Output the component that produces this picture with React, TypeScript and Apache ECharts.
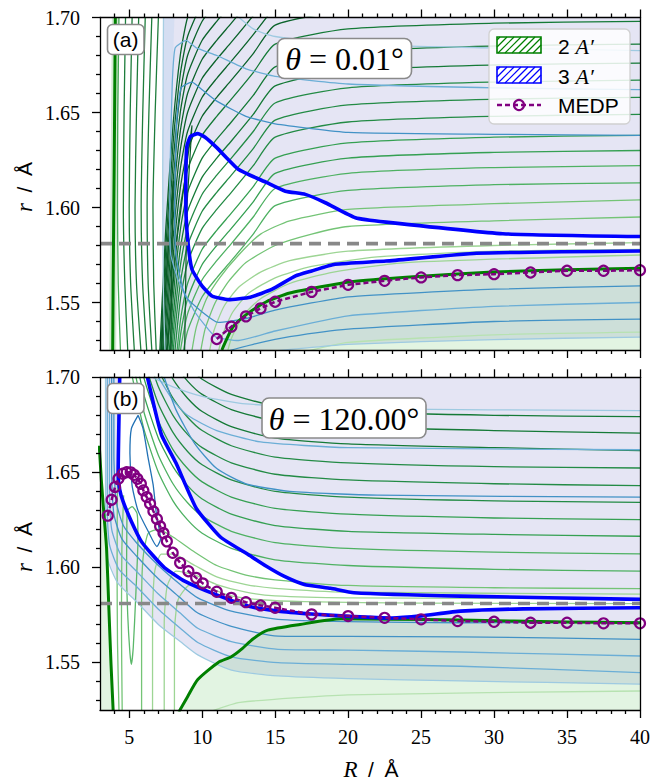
import React, { useEffect, useRef } from 'react';
import * as echarts from 'echarts';

type P = [number, number];

// ---------------- axes ----------------
const X_MIN = 3, X_MAX = 40, Y_MIN = 1.525, Y_MAX = 1.70;
const X_MAJOR = [5, 10, 15, 20, 25, 30, 35, 40];
const X_MINOR = [4, 6, 7, 8, 9, 11, 12, 13, 14, 16, 17, 18, 19, 21, 22, 23, 24, 26, 27, 28, 29, 31, 32, 33, 34, 36, 37, 38, 39];
const Y_MAJOR = [1.55, 1.60, 1.65, 1.70];
const Y_MINOR = [1.53, 1.54, 1.56, 1.57, 1.58, 1.59, 1.61, 1.62, 1.63, 1.64, 1.66, 1.67, 1.68, 1.69];
const ASYMPTOTE_r = 1.581;

// ---------------- panel (a): theta = 0.01 ----------------
const A_MEDP_R = [11, 12, 13, 14, 15, 17.5, 20, 22.5, 25, 27.5, 30, 32.5, 35, 37.5, 40];
const A_MEDP_r = [1.5308, 1.5373, 1.5427, 1.5469, 1.5504, 1.5556, 1.5593, 1.5614, 1.5632, 1.5644, 1.5649, 1.5658, 1.5667, 1.5667, 1.567];

const A_WALL: P[][] = [
  [[4.3, 1.70], [4.22, 1.65], [4.2, 1.60], [4.25, 1.56], [4.4, 1.525]],
  [[4.75, 1.70], [4.65, 1.65], [4.6, 1.60], [4.7, 1.56], [4.9, 1.525]],
  [[5.2, 1.70], [5.07, 1.65], [5.0, 1.60], [5.1, 1.56], [5.35, 1.525]],
  [[5.65, 1.70], [5.5, 1.65], [5.4, 1.60], [5.5, 1.56], [5.8, 1.525]],
  [[6.1, 1.70], [5.93, 1.65], [5.82, 1.60], [5.92, 1.56], [6.2, 1.525]],
  [[6.55, 1.70], [6.35, 1.65], [6.23, 1.60], [6.3, 1.56], [6.55, 1.525]],
  [[7.0, 1.70], [6.78, 1.65], [6.63, 1.60], [6.68, 1.56], [6.85, 1.525]],
];
const A_FAN_TOP: P[][] = [
  [[7.0, 1.508], [7.5, 1.588], [8.0, 1.643], [8.5, 1.680], [9.0, 1.700], [10, 1.718]],
  [[7.0, 1.498], [7.5, 1.578], [8.0, 1.633], [8.5, 1.670], [9.0, 1.690], [10, 1.708]],
  [[7.0, 1.488], [7.5, 1.568], [8.0, 1.623], [8.5, 1.660], [9.0, 1.680], [10, 1.698], [11, 1.708]],
  [[7.0, 1.478], [7.5, 1.558], [8.0, 1.613], [8.5, 1.650], [9.0, 1.670], [10, 1.688], [11, 1.698], [12, 1.707]],
  [[7.0, 1.468], [7.5, 1.548], [8.0, 1.603], [8.5, 1.640], [9.0, 1.660], [10, 1.678], [11, 1.688], [12, 1.697], [13.5, 1.711]],
  [[7.0, 1.458], [7.5, 1.538], [8.0, 1.593], [8.5, 1.630], [9.0, 1.650], [10, 1.668], [11, 1.678], [12, 1.687], [13.5, 1.701], [15, 1.716]],
  [[7.0, 1.448], [7.5, 1.528], [8.0, 1.583], [8.5, 1.620], [9.0, 1.640], [10, 1.658], [11, 1.668], [12, 1.677], [13.5, 1.691], [15, 1.706]],
  [[7.5, 1.518], [8.0, 1.573], [8.5, 1.610], [9.0, 1.630], [10, 1.648], [11, 1.658], [12, 1.667], [13.5, 1.681], [15, 1.696], [20, 1.704]],
];
const A_FAN_END: P[][] = [
  [[7.5, 1.508], [8, 1.563], [8.5, 1.600], [9, 1.620], [10, 1.638], [11, 1.648], [12, 1.657], [13.5, 1.671], [15, 1.686], [20, 1.694], [30, 1.697], [40, 1.698]],
  [[7.5, 1.496], [8, 1.551], [8.5, 1.588], [9, 1.608], [10, 1.626], [11, 1.636], [12, 1.645], [13.5, 1.659], [15, 1.674], [20, 1.682], [30, 1.685], [40, 1.686]],
  [[7.5, 1.486], [8, 1.541], [8.5, 1.578], [9, 1.598], [10, 1.616], [11, 1.626], [12, 1.635], [13.5, 1.649], [15, 1.664], [20, 1.672], [30, 1.675], [40, 1.676]],
  [[7.5, 1.477], [8, 1.532], [8.5, 1.569], [9, 1.589], [10, 1.607], [11, 1.617], [12, 1.626], [13.5, 1.640], [15, 1.655], [20, 1.663], [30, 1.666], [40, 1.667]],
  [[7.5, 1.468], [8, 1.523], [8.5, 1.560], [9, 1.580], [10, 1.598], [11, 1.608], [12, 1.617], [13.5, 1.631], [15, 1.646], [20, 1.654], [30, 1.657], [40, 1.658]],
  [[8, 1.514], [8.5, 1.551], [9, 1.571], [10, 1.589], [11, 1.599], [12, 1.608], [13.5, 1.622], [15, 1.637], [20, 1.645], [30, 1.648], [40, 1.649]],
  [[8, 1.503], [8.5, 1.540], [9, 1.560], [10, 1.578], [11, 1.588], [12, 1.597], [13.5, 1.611], [15, 1.626], [20, 1.634], [30, 1.637], [40, 1.638]],
  [[8, 1.495], [8.5, 1.532], [9, 1.552], [10, 1.570], [11, 1.580], [12, 1.589], [13.5, 1.603], [15, 1.618], [20, 1.626], [30, 1.629], [40, 1.630]],
  [[8, 1.487], [8.5, 1.524], [9, 1.544], [10, 1.562], [11, 1.572], [12, 1.581], [13.5, 1.595], [15, 1.610], [20, 1.618], [30, 1.621], [40, 1.622]],
  [[8.5, 1.515], [9, 1.535], [10, 1.553], [11, 1.563], [12, 1.572], [13.5, 1.586], [15, 1.601], [20, 1.609], [30, 1.612], [40, 1.613]],
];
const A_FAN_LOW: P[][] = [
  [[9.2, 1.52], [9.6, 1.537], [10.3, 1.552], [11.2, 1.563], [12.5, 1.575], [14, 1.586], [16, 1.593], [20, 1.599], [30, 1.602], [40, 1.604]],
  [[9.8, 1.52], [10.2, 1.536], [10.9, 1.550], [11.8, 1.561], [13, 1.571], [15, 1.580], [17.5, 1.586], [20, 1.590], [30, 1.593], [40, 1.595]],
  [[10.4, 1.52], [10.8, 1.535], [11.5, 1.548], [12.5, 1.558], [14, 1.566], [16, 1.572], [20, 1.577], [30, 1.580], [40, 1.5815]],
  [[11.0, 1.52], [11.4, 1.533], [12.1, 1.545], [13.2, 1.555], [15, 1.563], [17.5, 1.569], [22, 1.574], [30, 1.577], [40, 1.578]],
  [[11.6, 1.52], [12.0, 1.531], [12.8, 1.543], [14, 1.552], [16, 1.560], [19, 1.566], [24, 1.571], [40, 1.575]],
];
const A_SPIKES: P[][] = [
  [[7.2, 1.525], [7.6, 1.57], [8.03, 1.614], [7.92, 1.575], [7.85, 1.525]],
  [[7.6, 1.525], [8.3, 1.585], [9.3, 1.643], [8.95, 1.60], [8.8, 1.525]],
];
const A_GREEN_BOTTOM: P[] = [[17, 1.524], [20, 1.529], [30, 1.533], [40, 1.5344]];
const A_GREEN_WALL: P[] = [[4.05, 1.70], [3.97, 1.62], [3.9, 1.56], [3.87, 1.525]];
const A_GREEN_THICK: P[] = [[11.35, 1.525], [12.1, 1.537], [13, 1.5435], [14.4, 1.5504], [16, 1.555], [18.75, 1.5591], [20.5, 1.5612], [25, 1.5638], [29.9, 1.566], [35, 1.5672], [40, 1.568]];
const A_BLUE_LOOP: P[] = [
  [40, 1.5847], [30.6, 1.5862], [22.6, 1.5923], [20.5, 1.5946], [18.44, 1.6025], [17.07, 1.6069], [15.7, 1.6086],
  [14.4, 1.6132], [12.5, 1.620], [11.0, 1.6315], [10.2, 1.637], [9.7, 1.6389], [9.2, 1.6374], [8.95, 1.632],
  [8.88, 1.612], [8.9, 1.5953], [9.05, 1.58], [9.3, 1.5675], [10.0, 1.5586], [10.7, 1.5533], [11.8, 1.5515],
  [13.3, 1.5528], [14.8, 1.557], [16.4, 1.564], [17.5, 1.5666], [19.1, 1.5701], [22.6, 1.5718], [28.8, 1.5759], [40, 1.5771],
];
const A_BLUE_V0: P[] = [[7.35, 1.70], [7.3, 1.62], [7.33, 1.56], [7.45, 1.525]];
const A_BLUE_U: P[][] = [
  [[40, 1.662], [30, 1.663], [20, 1.665], [15, 1.669], [13, 1.673], [11, 1.680], [9.6, 1.684], [8.9, 1.688], [8.15, 1.684],
   [7.95, 1.665], [7.8, 1.62], [7.78, 1.59], [7.85, 1.575], [8.35, 1.562], [9.5, 1.545], [10.9, 1.532], [12.5, 1.530],
   [15, 1.535], [20, 1.543], [30, 1.548], [40, 1.550]],
  [[40, 1.638], [30, 1.6385], [20, 1.6395], [15, 1.644], [13, 1.648], [11, 1.656], [10, 1.662], [9.3, 1.666], [8.55, 1.663],
   [8.25, 1.645], [8.12, 1.60], [8.2, 1.575], [8.83, 1.5535], [10, 1.545], [11.1, 1.5395], [13, 1.5415], [15, 1.546],
   [20, 1.553], [30, 1.557], [40, 1.5588]],
];
const A_BLUE_TOP: P[] = [[11.8, 1.705], [13.5, 1.694], [15, 1.690], [20, 1.686], [30, 1.684], [40, 1.6826]];
const A_BLUE_LOW: P[][] = [
  [[11.5, 1.524], [13.5, 1.528], [16, 1.532], [20, 1.536], [30, 1.540], [40, 1.5413]],
  [[15, 1.5245], [17, 1.526], [20, 1.528], [30, 1.5305], [40, 1.5318]],
];

// ---------------- panel (b): theta = 120 ----------------
const B_MEDP_R = [3.53, 3.8, 4.03, 4.26, 4.56, 4.83, 5.1, 5.33, 5.56, 5.8, 5.97, 6.2, 6.43, 6.66, 6.9, 7.12, 7.35, 7.58, 7.98, 8.49, 9.06, 9.59, 10.04, 11, 12, 13, 14, 15, 17.5, 20, 22.5, 25, 27.5, 30, 32.5, 35, 37.5, 40];
const B_MEDP_r = [1.6272, 1.6356, 1.6423, 1.6466, 1.6493, 1.6501, 1.650, 1.6487, 1.6466, 1.644, 1.6405, 1.637, 1.6335, 1.6295, 1.6255, 1.6216, 1.6181, 1.6137, 1.6077, 1.6024, 1.598, 1.5945, 1.5916, 1.5872, 1.584, 1.5817, 1.580, 1.5788, 1.5753, 1.5744, 1.5735, 1.5727, 1.5718, 1.5714, 1.5709, 1.5709, 1.5706, 1.5706];

const B_FAN_UP: P[][] = [
  [[9, 1.706], [10, 1.699], [12, 1.691], [15, 1.685], [20, 1.682], [30, 1.680], [40, 1.6793]],
  [[8, 1.708], [9, 1.698], [10, 1.691], [12, 1.683], [15, 1.677], [20, 1.674], [30, 1.672], [40, 1.6706]],
  [[7, 1.714], [8, 1.699], [9, 1.689], [10, 1.682], [12, 1.674], [15, 1.668], [20, 1.665], [30, 1.663], [40, 1.6615]],
  [[7, 1.704], [8, 1.689], [9, 1.679], [10, 1.672], [12, 1.664], [15, 1.658], [20, 1.655], [30, 1.653], [40, 1.6523]],
  [[6, 1.718], [7, 1.695], [8, 1.680], [9, 1.670], [10, 1.663], [12, 1.655], [15, 1.649], [20, 1.646], [30, 1.644], [40, 1.643]],
  [[6, 1.709], [7, 1.686], [8, 1.671], [9, 1.661], [10, 1.654], [12, 1.646], [15, 1.640], [20, 1.637], [30, 1.635], [40, 1.6342]],
  [[5, 1.735], [6, 1.700], [7, 1.677], [8, 1.662], [9, 1.652], [10, 1.645], [12, 1.637], [15, 1.631], [20, 1.628], [30, 1.626], [40, 1.6251]],
  [[5, 1.726], [6, 1.691], [7, 1.668], [8, 1.653], [9, 1.643], [10, 1.636], [12, 1.628], [15, 1.622], [20, 1.619], [30, 1.6174], [40, 1.6164]],
  [[5, 1.717], [6, 1.682], [7, 1.659], [8, 1.644], [9, 1.634], [10, 1.627], [12, 1.619], [15, 1.613], [20, 1.610], [30, 1.608], [40, 1.6071]],
  [[5, 1.708], [6, 1.673], [7, 1.650], [8, 1.635], [9, 1.625], [10, 1.618], [12, 1.610], [15, 1.604], [20, 1.601], [30, 1.599], [40, 1.598]],
];
const B_FAN_LOW: P[][] = [
  [[5.85, 1.525], [5.85, 1.58], [5.95, 1.605], [6.3, 1.618], [7, 1.62], [8, 1.616], [9.5, 1.608], [11, 1.601], [13, 1.596], [15, 1.5935], [20, 1.5905], [30, 1.5893], [40, 1.5888]],
  [[6.6, 1.525], [6.6, 1.575], [6.75, 1.598], [7.2, 1.607], [8, 1.607], [9.5, 1.601], [11, 1.595], [13, 1.591], [15, 1.589], [20, 1.587], [40, 1.586]],
  [[7.4, 1.525], [7.4, 1.57], [7.6, 1.59], [8.2, 1.598], [9.5, 1.596], [11, 1.591], [13, 1.587], [15, 1.585], [20, 1.584], [40, 1.5835]],
  [[8.1, 1.525], [8.1, 1.565], [8.35, 1.583], [9.2, 1.591], [10.5, 1.589], [12, 1.585], [14, 1.583], [17, 1.582], [25, 1.5812], [40, 1.581]],
];
const B_WALL: P[][] = [
  [[4.3, 1.70], [4.2, 1.65], [4.17, 1.60], [4.2, 1.56], [4.3, 1.525]],
  [[4.62, 1.638], [4.5, 1.61], [4.47, 1.57], [4.52, 1.525]],
];
const B_GREEN_LOOP: P[] = [[4.85, 1.63], [4.82, 1.60], [4.9, 1.575], [5.05, 1.555], [5.15, 1.549], [5.28, 1.558], [5.45, 1.585], [5.6, 1.615], [5.55, 1.628], [5.2, 1.632], [4.85, 1.63]];
const B_GREEN_BOTTOM: P[] = [[10.5, 1.524], [12.6, 1.529], [20, 1.533], [40, 1.535]];
const B_GREEN_WALL: P[] = [[2.95, 1.664], [3.1, 1.645], [3.3, 1.625], [3.45, 1.61], [3.6, 1.58], [3.75, 1.55], [3.9, 1.525]];
const B_GREEN_THICK: P[] = [[8.4, 1.524], [9.0, 1.532], [9.7, 1.541], [11.1, 1.55], [12.0, 1.553], [12.7, 1.557], [13.5, 1.5625], [14.5, 1.567], [16.7, 1.570], [19.5, 1.573], [23, 1.5728], [27.7, 1.5723], [35, 1.5713], [40, 1.5709]];
const B_BLUE_UPPER: P[] = [[6.25, 1.70], [7.2, 1.670], [8.2, 1.655], [9.6, 1.631], [11.25, 1.616], [13.1, 1.607], [14.4, 1.6006], [15.6, 1.5954], [17, 1.591], [18.8, 1.589], [20.4, 1.5867], [27.7, 1.5849], [40, 1.5832]];
const B_BLUE_LOWER: P[] = [[4.35, 1.70], [4.28, 1.67], [4.24, 1.6487], [4.35, 1.641], [4.58, 1.6347], [5.15, 1.6242], [5.83, 1.6137], [6.6, 1.6065], [7.43, 1.5998], [8.8, 1.5928], [10.9, 1.5858], [13.2, 1.5796], [15.2, 1.577], [17.5, 1.5755], [20.4, 1.5741], [23, 1.5734], [25, 1.5745], [27.7, 1.577], [32, 1.5782], [40, 1.5788]];
const B_BLUE_ISLAND: P[] = [[5.61, 1.680], [5.95, 1.673], [6.3, 1.6575], [6.64, 1.6435], [6.87, 1.6277], [7.15, 1.615], [6.9, 1.611], [6.3, 1.619], [5.6, 1.63], [5.2, 1.643], [5.05, 1.66], [5.15, 1.673], [5.61, 1.680]];
const B_BLUE_UP: P[][] = [
  [[6.6, 1.70], [8, 1.695], [10, 1.69], [13, 1.686], [20, 1.6835], [40, 1.6825]],
  [[7.0, 1.70], [8, 1.688], [9, 1.68], [11, 1.672], [14, 1.666], [20, 1.663], [40, 1.6619]],
  [[7.4, 1.70], [8.2, 1.683], [9.5, 1.665], [11, 1.652], [13, 1.644], [16, 1.640], [22, 1.638], [40, 1.637]],
];
const B_BLUE_LOW: P[][] = [
  [[3.95, 1.70], [3.95, 1.66], [4.1, 1.635], [4.6, 1.622], [5.5, 1.613], [7, 1.601], [8.5, 1.591], [9.7, 1.584], [12, 1.577], [15.2, 1.5727], [20, 1.5715], [27.7, 1.5709], [40, 1.5712]],
  [[3.8, 1.70], [3.8, 1.65], [3.95, 1.628], [4.5, 1.615], [5.5, 1.606], [7, 1.594], [8.5, 1.584], [9.7, 1.576], [12, 1.569], [15.2, 1.5639], [20, 1.5637], [27.7, 1.5635], [40, 1.5622]],
  [[3.65, 1.70], [3.65, 1.64], [3.8, 1.62], [4.4, 1.607], [5.5, 1.598], [7, 1.586], [8.5, 1.576], [9.7, 1.568], [12, 1.561], [15.2, 1.5569], [20, 1.5565], [27.7, 1.5555], [40, 1.5534]],
  [[3.5, 1.70], [3.5, 1.63], [3.65, 1.612], [4.3, 1.599], [5.5, 1.590], [7, 1.578], [8.5, 1.568], [9.7, 1.5605], [12, 1.553], [15.2, 1.5499], [20, 1.549], [27.7, 1.548], [40, 1.5447]],
  [[3.38, 1.70], [3.38, 1.625], [3.5, 1.605], [4.2, 1.592], [5.5, 1.582], [7, 1.570], [8.5, 1.561], [9.7, 1.554], [12, 1.546], [15.2, 1.5429], [20, 1.5415], [27.7, 1.5403], [40, 1.5386]],
];

// ---------------- styles ----------------
const LAVENDER = '#e5e5f4';
const GREEN_FILL = 'rgba(110,200,110,0.2)';
const C_TOP = '#0b632b';
const C_END = ['#157a37', '#157a37', '#157a37', '#238b45', '#238b45', '#238b45', '#35a052', '#35a052', '#4eb162', '#4eb162'];
const C_LOW = ['#74c476', '#74c476', '#9dd594', '#9dd594', '#9dd594'];
const C_UPB = ['#157a37', '#157a37', '#157a37', '#238b45', '#238b45', '#238b45', '#35a052', '#35a052', '#4eb162', '#4eb162'];
const C_LFB = ['#74c476', '#9dd594', '#9dd594', '#9dd594'];
const C_BLUE_LOW_B = ['#4292c6', '#4292c6', '#6baed6', '#6baed6', '#9ecae1'];
const SERIF = 'Liberation Serif';
const SANS = 'Liberation Sans';

const PANEL_TOP = [17.5, 377.3];
const PANEL_H = [332.5, 332.7];

function ln(p: number, data: P[], color: string, width = 1.3, z = 3, smooth: any = 0.2, type: any = 'solid') {
  return {
    type: 'line', xAxisIndex: p * 4, yAxisIndex: p * 4, data, symbol: 'none', showSymbol: false,
    smooth, clip: true, silent: true, z,
    lineStyle: { color, width, type, join: 'round', cap: 'butt' },
  };
}
function poly(p: number, pts: P[], fill: string, z = 1) {
  return {
    type: 'custom', xAxisIndex: p * 4, yAxisIndex: p * 4, data: pts, clip: true, silent: true, z,
    renderItem: (params: any, api: any) =>
      params.dataIndex === 0
        ? { type: 'polygon', shape: { points: pts.map((q) => api.coord(q)) }, style: { fill } }
        : null,
  };
}
function medp(p: number, R: number[], r: number[]) {
  return {
    type: 'line', xAxisIndex: p * 4, yAxisIndex: p * 4, data: R.map((x, i) => [x, r[i]]),
    symbol: 'circle', symbolSize: 10, showSymbol: true, clip: true, silent: true, z: 6,
    lineStyle: { color: '#800080', width: 2.5, type: [5, 3] },
    itemStyle: { color: 'rgba(0,0,0,0)', borderColor: '#800080', borderWidth: 2.2 },
  };
}
function dash(p: number) {
  return ln(p, [[X_MIN, ASYMPTOTE_r], [X_MAX, ASYMPTOTE_r]], '#888888', 3.6, 5, false, [12, 7]);
}

function hatch(x0: number, y0: number, w: number, h: number, color: string) {
  const els: any[] = [{ type: 'rect', shape: { x: x0, y: y0, width: w, height: h }, style: { fill: '#fff', stroke: null }, z: 100 }];
  for (let c = x0 - h + 3; c < x0 + w; c += 7) {
    let xa = c, ya = y0 + h, xb = c + h, yb = y0;
    if (xa < x0) { ya -= x0 - xa; xa = x0; }
    if (xb > x0 + w) { yb += xb - (x0 + w); xb = x0 + w; }
    if (xb - xa > 0.5) els.push({ type: 'line', shape: { x1: xa, y1: ya, x2: xb, y2: yb }, style: { stroke: color, lineWidth: 1.2 }, z: 101 });
  }
  els.push({ type: 'rect', shape: { x: x0, y: y0, width: w, height: h }, style: { fill: 'none', stroke: color, lineWidth: 1.6 }, z: 102 });
  return els;
}

function buildOption() {
  const grid: any[] = [];
  const xAxis: any[] = [];
  const yAxis: any[] = [];
  const lineBlack = { color: '#000', width: 1.3 };
  const tickFont = { color: '#000', fontFamily: SERIF, fontSize: 20 };
  for (let p = 0; p < 2; p++) {
    for (let k = 0; k < 4; k++) {
      grid.push({ left: 100, top: PANEL_TOP[p], width: 540, height: PANEL_H[p], containLabel: false });
      const gi = p * 4 + k;
      const major = k === 0 || k === 1;
      const top = k === 1 || k === 3;
      xAxis.push({
        gridIndex: gi, type: 'value', min: X_MIN, max: X_MAX, position: top ? 'top' : 'bottom', z: 10,
        axisLine: { show: major, lineStyle: lineBlack },
        axisTick: { show: true, inside: false, customValues: major ? X_MAJOR : X_MINOR, length: major ? 8 : 4, lineStyle: lineBlack },
        axisLabel: {
          show: k === 0 && p === 1, customValues: X_MAJOR, margin: 17, ...tickFont,
          formatter: (v: number) => String(Math.round(v)),
        },
        splitLine: { show: false },
      });
      const yBase: any = {
        gridIndex: gi, type: 'value', min: Y_MIN, max: Y_MAX, z: 10, splitLine: { show: false },
      };
      if (k === 0) {
        yAxis.push({
          ...yBase, position: 'left',
          axisLine: { show: true, lineStyle: lineBlack },
          axisTick: { show: true, customValues: Y_MAJOR, length: 8, lineStyle: lineBlack },
          axisLabel: { show: true, customValues: Y_MAJOR, margin: 20, ...tickFont, formatter: (v: number) => v.toFixed(2) },
        });
      } else if (k === 1) {
        yAxis.push({
          ...yBase, position: 'right',
          axisLine: { show: true, lineStyle: lineBlack }, axisTick: { show: false }, axisLabel: { show: false },
        });
      } else if (k === 2) {
        yAxis.push({
          ...yBase, position: 'left',
          axisLine: { show: false }, axisTick: { show: true, customValues: Y_MINOR, length: 4, lineStyle: lineBlack }, axisLabel: { show: false },
        });
      } else {
        yAxis.push({ ...yBase, show: false });
      }
    }
  }

  const series: any[] = [];
  // ----- panel a -----
  series.push(poly(0, [[A_BLUE_V0[0][0], Y_MAX], [X_MAX, Y_MAX], ...A_BLUE_LOW[1].slice().reverse(), ...A_BLUE_V0.slice().reverse()], LAVENDER));
  series.push(poly(0, [[7.35, 1.70], [7.3, 1.62], [7.33, 1.56], [7.45, 1.525], [7.85, 1.525], [7.8, 1.58], [7.8, 1.62], [7.95, 1.665], [8.1, 1.70]], 'rgba(160,200,235,0.22)'));
  series.push(poly(0, A_BLUE_LOOP, '#ffffff'));
  series.push(poly(0, [...A_GREEN_THICK, [X_MAX, 1.52], [A_GREEN_THICK[0][0], 1.52]], GREEN_FILL));

  A_WALL.forEach((l, i) => series.push(ln(0, l, i === 0 ? '#4aab5c' : '#1e7d3c')));
  A_FAN_TOP.forEach((l) => series.push(ln(0, l, C_TOP)));
  A_FAN_END.forEach((l, i) => series.push(ln(0, l, C_END[i])));
  A_FAN_LOW.forEach((l, i) => series.push(ln(0, l, C_LOW[i])));
  A_SPIKES.forEach((l) => series.push(ln(0, l, '#0b5a27', 1.2, 3, false)));
  series.push(ln(0, A_GREEN_BOTTOM, '#b7e2b1'));
  series.push(ln(0, A_BLUE_V0, '#a6cee3', 1.3, 3, 0.2));
  series.push(ln(0, A_BLUE_U[0], '#6baed6', 1.3, 3, 0.15));
  series.push(ln(0, A_BLUE_U[1], '#4292c6', 1.3, 3, 0.15));
  series.push(ln(0, A_BLUE_TOP, '#9ecae1'));
  series.push(ln(0, A_BLUE_LOW[0], '#4292c6'));
  series.push(ln(0, A_BLUE_LOW[1], '#9ecae1'));
  series.push(ln(0, A_GREEN_WALL, 'rgba(0,128,0,0.18)', 7, 4, 0.2));
  series.push(ln(0, A_GREEN_WALL, '#008000', 3, 4, 0.2));
  series.push(ln(0, A_GREEN_THICK, '#008000', 3, 4, 0.2));
  series.push(ln(0, A_BLUE_LOOP, '#0000ff', 3.6, 4, 0.15));
  series.push(dash(0));
  series.push(medp(0, A_MEDP_R, A_MEDP_r));

  // ----- panel b -----
  series.push(poly(1, [[X_MIN, B_GREEN_WALL[0][1]], ...B_GREEN_WALL, [X_MIN, Y_MIN]], GREEN_FILL));
  series.push(poly(1, [...B_BLUE_UPPER, [X_MAX, 1.71], [B_BLUE_UPPER[0][0], 1.71]], LAVENDER));
  series.push(poly(1, [...B_BLUE_LOWER, ...B_BLUE_LOW[4].slice().reverse()], LAVENDER));
  series.push(poly(1, [...B_GREEN_THICK, [X_MAX, 1.52], [B_GREEN_THICK[0][0], 1.52]], GREEN_FILL));

  B_WALL.forEach((l) => series.push(ln(1, l, '#74c476')));
  series.push(ln(1, B_GREEN_LOOP, '#5bb86a'));
  B_FAN_UP.forEach((l, i) => series.push(ln(1, l, C_UPB[i])));
  B_FAN_LOW.forEach((l, i) => series.push(ln(1, l, C_LFB[i])));
  series.push(ln(1, B_GREEN_BOTTOM, '#b7e2b1'));
  B_BLUE_UP.forEach((l, i) => series.push(ln(1, l, ['#9ecae1', '#6baed6', '#4292c6'][i])));
  B_BLUE_LOW.forEach((l, i) => series.push(ln(1, l, C_BLUE_LOW_B[i])));
  series.push(ln(1, B_BLUE_ISLAND, '#2171b5', 1.3, 3, 0.2));
  series.push(ln(1, B_GREEN_WALL, '#008000', 3, 4, 0.2));
  series.push(ln(1, B_GREEN_THICK, '#008000', 3, 4, 0.2));
  series.push(ln(1, B_BLUE_UPPER, '#0000ff', 3.6, 4, 0.15));
  series.push(ln(1, B_BLUE_LOWER, '#0000ff', 3.6, 4, 0.15));
  series.push(dash(1));
  series.push(medp(1, B_MEDP_R, B_MEDP_r));

  // ----- annotations -----
  const g: any[] = [];
  const box = (x: number, y: number, w: number, h: number, r = 6) => ({
    type: 'rect', shape: { x, y, width: w, height: h, r }, style: { fill: '#fff', stroke: '#8a8a8a', lineWidth: 1.6 }, z: 99,
  });
  g.push(box(107.5, 24.5, 36.5, 30, 5));
  g.push({ type: 'text', x: 125.7, y: 39.5, z: 100, style: { text: '(a)', fontFamily: SANS, fontSize: 21, fill: '#000', align: 'center', verticalAlign: 'middle' } });
  g.push(box(107.5, 383.5, 36.5, 30, 5));
  g.push({ type: 'text', x: 125.7, y: 398.5, z: 100, style: { text: '(b)', fontFamily: SANS, fontSize: 21, fill: '#000', align: 'center', verticalAlign: 'middle' } });

  const thetaRich = { i: { fontFamily: SERIF, fontStyle: 'italic', fontSize: 32, fill: '#000' }, n: { fontFamily: SERIF, fontSize: 32, fill: '#000' } };
  g.push(box(277.5, 38.5, 134, 40, 7));
  g.push({ type: 'text', x: 344.5, y: 59, z: 100, style: { text: '{i|θ}{n| = 0.01°}', rich: thetaRich, align: 'center', verticalAlign: 'middle' } });
  g.push(box(262, 398, 164, 40, 7));
  g.push({ type: 'text', x: 344, y: 418.5, z: 100, style: { text: '{i|θ}{n| = 120.00°}', rich: thetaRich, align: 'center', verticalAlign: 'middle' } });

  // legend
  g.push({ type: 'rect', shape: { x: 489, y: 29, width: 141, height: 95, r: 5 }, style: { fill: 'rgba(255,255,255,0.85)', stroke: '#d0d0d0', lineWidth: 1.3 }, z: 98 });
  g.push(...hatch(497, 37, 44, 16, '#008000'));
  g.push(...hatch(497, 67, 44, 16, '#0000ff'));
  g.push({ type: 'line', shape: { x1: 497, y1: 105, x2: 541, y2: 105 }, style: { stroke: '#800080', lineWidth: 2.5, lineDash: [5, 3] }, z: 101 });
  g.push({ type: 'circle', shape: { cx: 519, cy: 105, r: 5 }, style: { fill: 'none', stroke: '#800080', lineWidth: 2.2 }, z: 102 });
  const legRich = { s: { fontFamily: SANS, fontSize: 21, fill: '#000' }, m: { fontFamily: SERIF, fontStyle: 'italic', fontSize: 22, fill: '#000' } };
  g.push({ type: 'text', x: 558, y: 46, z: 102, style: { text: '{s|2 }{m|A′}', rich: legRich, align: 'left', verticalAlign: 'middle' } });
  g.push({ type: 'text', x: 558, y: 76, z: 102, style: { text: '{s|3 }{m|A′}', rich: legRich, align: 'left', verticalAlign: 'middle' } });
  g.push({ type: 'text', x: 558, y: 105.5, z: 102, style: { text: 'MEDP', fontFamily: SANS, fontSize: 21, fill: '#000', align: 'left', verticalAlign: 'middle' } });

  // axis titles
  const titleRich = { i: { fontFamily: SERIF, fontStyle: 'italic', fontSize: 23, fill: '#000' }, s: { fontFamily: SANS, fontSize: 21, fill: '#000' } };
  g.push({ type: 'text', x: 24, y: 187, rotation: Math.PI / 2, z: 100, style: { text: '{i|r}{s|\u2002/\u2002Å}', rich: titleRich, align: 'center', verticalAlign: 'middle' } });
  g.push({ type: 'text', x: 24, y: 547, rotation: Math.PI / 2, z: 100, style: { text: '{i|r}{s|\u2002/\u2002Å}', rich: titleRich, align: 'center', verticalAlign: 'middle' } });
  g.push({ type: 'text', x: 371, y: 769, z: 100, style: { text: '{i|R}{s|\u2002/\u2002Å}', rich: titleRich, align: 'center', verticalAlign: 'middle' } });

  return {
    animation: false,
    backgroundColor: '#ffffff',
    textStyle: { fontFamily: SERIF },
    grid, xAxis, yAxis, series,
    graphic: { elements: g },
  };
}

export default function App() {
  const ref = useRef<HTMLDivElement>(null);
  useEffect(() => {
    if (!ref.current) return;
    const chart = echarts.init(ref.current, undefined, { renderer: 'svg' });
    chart.setOption(buildOption() as any);
    return () => chart.dispose();
  }, []);
  return <div ref={ref} style={{ position: 'fixed', left: 0, top: 0, width: 653, height: 781, background: '#fff' }} />;
}
